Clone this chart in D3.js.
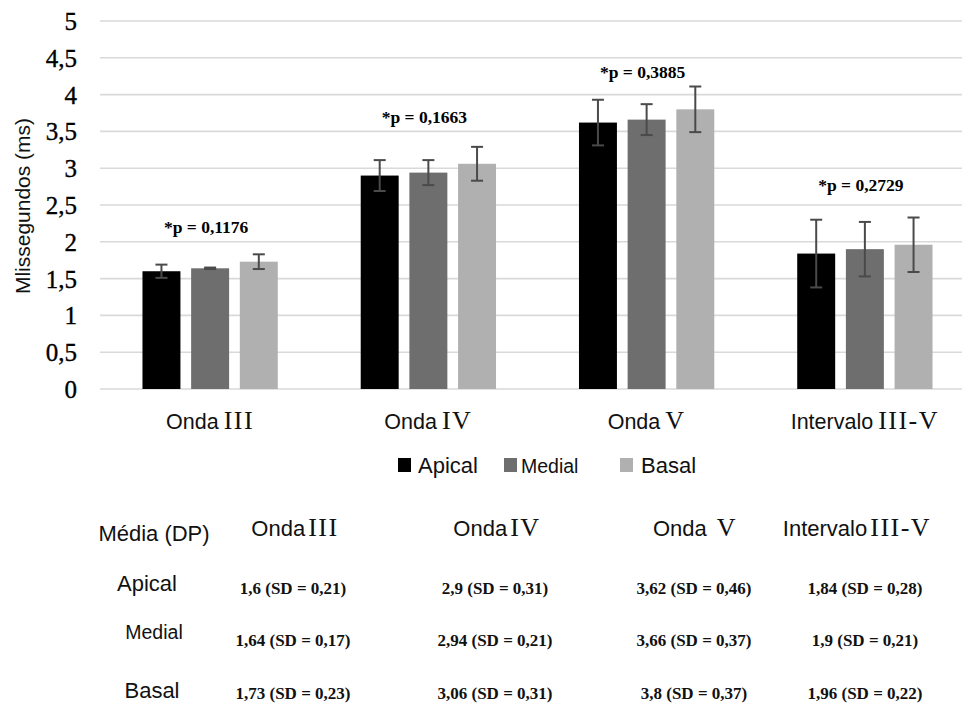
<!DOCTYPE html>
<html>
<head>
<meta charset="utf-8">
<script src="https://cdn.jsdelivr.net/npm/d3@7"></script>
<style>
  html, body { margin: 0; padding: 0; background: #fff; }
  svg { display: block; }
  .sans { font-family: "Liberation Sans", Arial, Helvetica, sans-serif; }
  .serif { font-family: "Liberation Serif", "Times New Roman", serif; }
  .tick-lbl { font-family: "Liberation Serif", "Times New Roman", serif !important; font-size: 25px; }
</style>
</head>
<body>
<svg id="chart" width="962" height="704"></svg>
<script>
// ---- data ----
const categories = ["Onda III", "Onda IV", "Onda V", "Intervalo III-V"];
const seriesNames = ["Apical", "Medial", "Basal"];
const seriesColors = ["#000000", "#6e6e6e", "#b0b0b0"];

// mean latency (ms) per category
const apicalMean = [1.6, 2.9, 3.62, 1.84];
const medialMean = [1.64, 2.94, 3.66, 1.9];
const basalMean  = [1.73, 3.06, 3.8, 1.96];

// standard deviations listed in the table
const apicalSD = [0.21, 0.31, 0.46, 0.28];
const medialSD = [0.17, 0.21, 0.37, 0.21];
const basalSD  = [0.23, 0.31, 0.37, 0.22];

// half-length of the plotted error bars
const apicalErr = [0.09, 0.21, 0.31, 0.46];
const medialErr = [0.01, 0.17, 0.21, 0.37];
const basalErr  = [0.10, 0.23, 0.31, 0.37];

// p-values of each comparison and the level (ms) where the label sits
const pValues = ["0,1176", "0,1663", "0,3885", "0,2729"];
const pLabelLevel = [2.2, 3.7, 4.31, 2.78];

const yTicks = [0, 0.5, 1, 1.5, 2, 2.5, 3, 3.5, 4, 4.5, 5];
const yTitle = "Mlissegundos (ms)";
const tableCorner = "Média (DP)";

// ---- build rows ----
const means = [apicalMean, medialMean, basalMean];
const sds = [apicalSD, medialSD, basalSD];
const errs = [apicalErr, medialErr, basalErr];
const comma = v => String(v).replace(".", ",");

const svg = d3.select("#chart");
const W = 962;

const x0 = d3.scaleBand().domain(categories).range([101, 974])
  .paddingInner(0.38).paddingOuter(0.19);
const x1 = d3.scaleBand().domain(seriesNames).range([0, x0.bandwidth()])
  .paddingInner(0.22);
const y = d3.scaleLinear().domain([0, 5]).range([389, 21]);
const color = d3.scaleOrdinal().domain(seriesNames).range(seriesColors);

// gridlines
svg.append("g")
  .selectAll("line").data(yTicks).join("line")
  .attr("x1", 100).attr("x2", W)
  .attr("y1", d => y(d)).attr("y2", d => y(d))
  .attr("stroke", "#d9d9d9").attr("stroke-width", 1.6);

// y axis labels
const yAxis = svg.append("g").attr("transform", "translate(100,0)")
  .call(d3.axisLeft(y).tickValues(yTicks).tickSize(0).tickPadding(23)
    .tickFormat(comma));
yAxis.attr("font-family", null).attr("font-size", null);
yAxis.select(".domain").remove();
yAxis.selectAll("text").attr("class", "tick-lbl")
  .attr("fill", "#000").attr("dy", "0.34em")
  .attr("stroke", "#000").attr("stroke-width", 0.35);

// y title
svg.append("text").attr("class", "sans")
  .attr("transform", "translate(30,206) rotate(-90)")
  .attr("text-anchor", "middle")
  .style("font-size", "21px").attr("fill", "#111")
  .text(yTitle);

// bars
const barData = [];
categories.forEach((c, i) => seriesNames.forEach((s, j) => {
  barData.push({ cat: c, ser: s, v: means[j][i], e: errs[j][i] });
}));

svg.append("g").selectAll("rect").data(barData).join("rect")
  .attr("x", d => x0(d.cat) + x1(d.ser))
  .attr("width", x1.bandwidth())
  .attr("y", d => y(d.v))
  .attr("height", d => y(0) - y(d.v))
  .attr("fill", d => color(d.ser));

// error bars
const eb = svg.append("g").attr("stroke", "#4a4a4a").attr("stroke-width", 2);
barData.forEach(d => {
  const cx = x0(d.cat) + x1(d.ser) + x1.bandwidth() / 2;
  eb.append("line").attr("x1", cx).attr("x2", cx)
    .attr("y1", y(d.v + d.e)).attr("y2", y(d.v - d.e));
  [d.v + d.e, d.v - d.e].forEach(t => {
    eb.append("line").attr("x1", cx - 6).attr("x2", cx + 6)
      .attr("y1", y(t)).attr("y2", y(t));
  });
});

// p-value labels
svg.append("g").selectAll("text").data(categories).join("text")
  .attr("class", "serif")
  .attr("x", (c, i) => x0(c) + x0.bandwidth() / 2 - 4)
  .attr("y", (c, i) => y(pLabelLevel[i]))
  .attr("dy", "0.35em")
  .attr("text-anchor", "middle")
  .style("font-size", "17.5px").style("font-weight", "bold")
  .text((c, i) => "*p = " + pValues[i]);

// category labels: word in sans, numeral in serif
function mixedLabel(sel, label, wordSize, numSize, gap) {
  const k = label.lastIndexOf(" ");
  sel.append("tspan").attr("class", "sans").style("font-size", wordSize + "px")
    .text(label.slice(0, k));
  sel.append("tspan").attr("class", "serif").style("font-size", numSize + "px")
    .attr("dx", gap).style("letter-spacing", "1.5px")
    .text(label.slice(k + 1));
}
svg.append("g").selectAll("text").data(categories).join("text")
  .attr("x", c => x0(c) + x0.bandwidth() / 2)
  .attr("y", 429)
  .attr("text-anchor", "middle")
  .attr("fill", "#111")
  .each(function (c) { mixedLabel(d3.select(this), c, 21.5, 26, 5); });

// legend
const legendX = [398, 504, 620];
const legendSize = [22, 19.5, 22];
const legendGap = [7, 4, 8];
const lg = svg.append("g");
seriesNames.forEach((s, j) => {
  lg.append("rect").attr("x", legendX[j]).attr("y", 458)
    .attr("width", 13).attr("height", 14).attr("fill", color(s));
  lg.append("text").attr("class", "sans")
    .attr("x", legendX[j] + 13 + legendGap[j]).attr("y", 473)
    .style("font-size", legendSize[j] + "px").attr("fill", "#111")
    .text(s);
});

// summary table
const headCols = [295, 497, 695, 857];
const valCols = [293, 495, 694, 865];
const labelRowY = [583, 632, 690];
const valueRowY = [588, 640, 693];
const labelCx = [147, 154, 152];
const labelSize = [22, 19.5, 22];

svg.append("text").attr("class", "sans")
  .attr("x", 154).attr("y", 533).attr("dy", "0.35em")
  .attr("text-anchor", "middle").style("font-size", "22px").attr("fill", "#111")
  .text(tableCorner);

svg.append("g").selectAll("text").data(categories).join("text")
  .attr("x", (c, i) => headCols[i]).attr("y", 536)
  .attr("text-anchor", "middle").attr("fill", "#111")
  .each(function (c, i) { mixedLabel(d3.select(this), c, 22, 26, i === 2 ? 10 : 3); });

seriesNames.forEach((s, j) => {
  svg.append("text").attr("class", "sans")
    .attr("x", labelCx[j]).attr("y", labelRowY[j]).attr("dy", "0.35em")
    .attr("text-anchor", "middle").style("font-size", labelSize[j] + "px")
    .attr("fill", "#111").text(s);
  svg.append("g").selectAll("text").data(categories).join("text")
    .attr("class", "serif")
    .attr("x", (c, i) => valCols[i]).attr("y", valueRowY[j]).attr("dy", "0.35em")
    .attr("text-anchor", "middle")
    .style("font-size", "17px").style("font-weight", "bold").attr("fill", "#111")
    .text((c, i) => comma(means[j][i]) + " (SD = " + comma(sds[j][i]) + ")");
});
</script>
</body>
</html>
